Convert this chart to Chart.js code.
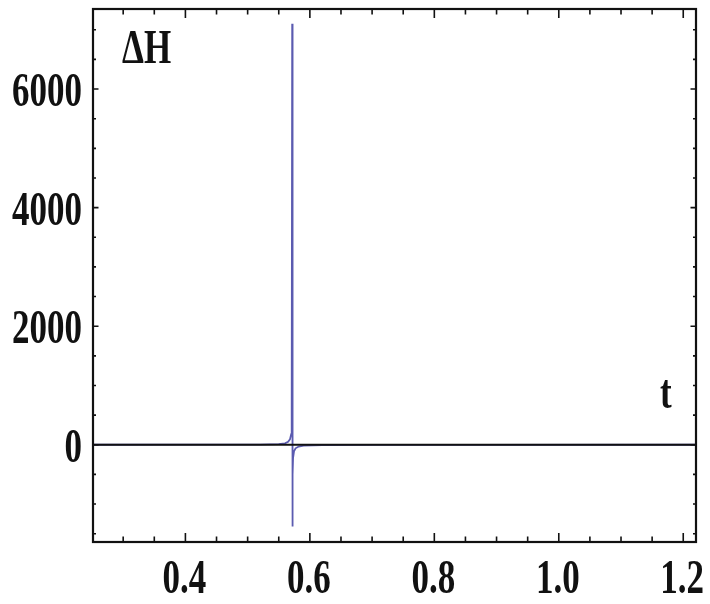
<!DOCTYPE html>
<html>
<head>
<meta charset="utf-8">
<script src="https://cdn.jsdelivr.net/npm/chart.js@4/dist/chart.umd.min.js"></script>
<style>
  html, body { margin: 0; padding: 0; background: #fff; }
  #wrap { width: 710px; height: 604px; }
</style>
</head>
<body>
<div id="wrap"><canvas id="c" width="710" height="604"></canvas></div>
<script>
// Time samples and the energy change ΔH around the resonance at t ≈ 0.5716
const tValues  = [0.25, 0.45, 0.52, 0.55, 0.560, 0.565, 0.568, 0.5700, 0.5708, 0.5716, 0.5720, 0.5724, 0.5730, 0.5745, 0.577, 0.582, 0.590, 0.620, 0.700, 0.850, 1.22];
const dHValues = [0,    1,    4,    10,   25,    50,    90,    180,    600,    7100,   -1380,  -500,   -220,   -110,   -60,   -30,   -15,   -6,    -2,    -1,    0];

// Axis tick labels (major ticks); minor ticks fall in between
const xTickLabels = ['0.4', '0.6', '0.8', '1.0', '1.2'];
const yTickLabels = ['0', '2000', '4000', '6000'];
const xMinorStep = 0.05;
const yMinorStep = 500;

const xMajor = xTickLabels.map(Number);
const yMajor = yTickLabels.map(Number);

const FONT = 'bold 35px "Liberation Serif", "Times New Roman", serif';
const STRETCH = 1.4;

function stretchedText(ctx, text, x, y, align) {
  ctx.save();
  ctx.translate(x, y);
  ctx.scale(1, STRETCH);
  ctx.font = FONT;
  ctx.fillStyle = '#111';
  ctx.textAlign = align;
  ctx.textBaseline = 'alphabetic';
  ctx.fillText(text, 0, 0);
  ctx.restore();
}

function buildTicks(scale, step, majors) {
  const out = [];
  const start = Math.ceil(scale.min / step - 1e-9);
  const end = Math.floor(scale.max / step + 1e-9);
  for (let i = start; i <= end; i++) {
    const v = +(i * step).toFixed(6);
    out.push({ value: v, major: majors.some(m => Math.abs(m - v) < 1e-9) });
  }
  scale.ticks = out;
}

// Frame, inward tick marks, zero axis and text labels
const framePlugin = {
  id: 'frame',
  afterDatasetsDraw(chart) {
    const { ctx, chartArea: a, scales: { x, y } } = chart;
    ctx.save();
    ctx.strokeStyle = '#111';

    // horizontal axis at ΔH = 0
    const y0 = y.getPixelForValue(0);
    ctx.lineWidth = 2.2;
    ctx.beginPath();
    ctx.moveTo(a.left, y0);
    ctx.lineTo(a.right, y0);
    ctx.stroke();

    ctx.lineWidth = 1.6;
    ctx.beginPath();
    x.ticks.forEach(tk => {
      const px = x.getPixelForValue(tk.value);
      const len = tk.major ? 9 : 5.5;
      ctx.moveTo(px, a.bottom); ctx.lineTo(px, a.bottom - len);
      ctx.moveTo(px, a.top);    ctx.lineTo(px, a.top + len);
    });
    y.ticks.forEach(tk => {
      const py = y.getPixelForValue(tk.value);
      const len = tk.major ? 5.5 : 3;
      ctx.moveTo(a.left, py);  ctx.lineTo(a.left + len, py);
      ctx.moveTo(a.right, py); ctx.lineTo(a.right - len, py);
    });
    ctx.stroke();

    ctx.lineWidth = 2.2;
    ctx.strokeRect(a.left, a.top, a.right - a.left, a.bottom - a.top);
    ctx.restore();

    // tick labels
    xTickLabels.forEach((lab, i) => {
      stretchedText(ctx, lab, x.getPixelForValue(xMajor[i]) - 1, a.bottom + 51, 'center');
    });
    yTickLabels.forEach((lab, i) => {
      stretchedText(ctx, lab, a.left - 11, y.getPixelForValue(yMajor[i]) + 17, 'right');
    });

    // axis labels inside the frame
    stretchedText(ctx, 'ΔH', a.left + 29, a.top + 54, 'left');
    stretchedText(ctx, 't', a.right - 36, y.getPixelForValue(0) - 37, 'left');
  }
};

new Chart(document.getElementById('c'), {
  type: 'line',
  data: {
    datasets: [{
      data: tValues.map((t, i) => ({ x: t, y: dHValues[i] })),
      borderColor: '#5b5bb0',
      borderWidth: 1.8,
      pointRadius: 0,
      tension: 0,
      fill: false
    }]
  },
  options: {
    responsive: false,
    animation: false,
    devicePixelRatio: 1,
    layout: { padding: { top: 9, right: 14, left: 0, bottom: 0 } },
    plugins: { legend: { display: false }, tooltip: { enabled: false } },
    scales: {
      x: {
        type: 'linear',
        min: 0.2515,
        max: 1.2205,
        grid: { display: false },
        border: { display: false },
        ticks: { display: false },
        afterBuildTicks: s => buildTicks(s, xMinorStep, xMajor),
        afterFit: s => { s.height = 604 - 542; }
      },
      y: {
        type: 'linear',
        min: -1640,
        max: 7350,
        grid: { display: false },
        border: { display: false },
        ticks: { display: false },
        afterBuildTicks: s => buildTicks(s, yMinorStep, yMajor),
        afterFit: s => { s.width = 93; }
      }
    }
  },
  plugins: [framePlugin]
});
</script>
</body>
</html>
